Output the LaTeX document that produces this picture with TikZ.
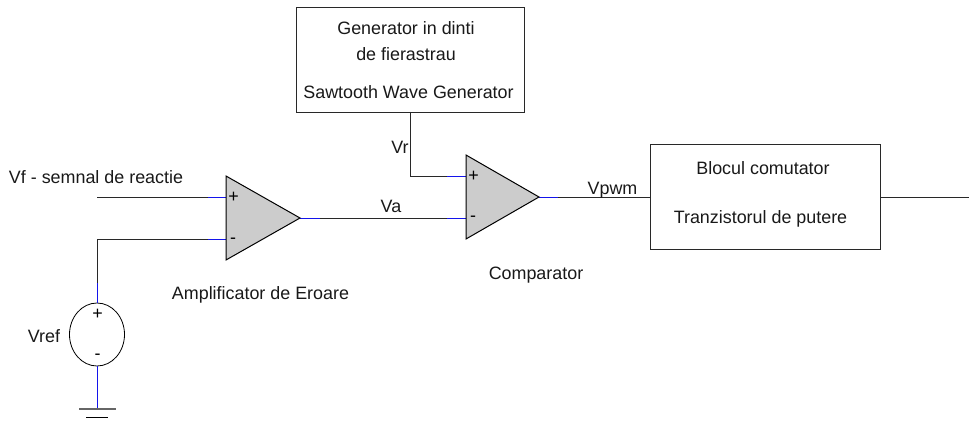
\documentclass[tikz,border=0pt]{standalone}
\usepackage{fontspec}
\setmainfont{Liberation Sans}
\usetikzlibrary{shapes.geometric}
\definecolor{pin}{RGB}{20,20,235}
\definecolor{wirec}{RGB}{40,40,40}
\tikzset{
 x=1pt,y=-1pt,
 wire/.style={draw=wirec,line width=0.85pt},
 pinw/.style={draw=pin,line width=0.85pt},
 tri/.style={draw=black,fill=black!20,line width=1pt,line join=miter},
 boxn/.style={draw=wirec,line width=0.9pt,fill=white,inner sep=0pt,outer sep=0pt,anchor=north west},
 lab/.style={inner sep=0pt,font=\fontsize{17.9}{20}\selectfont,text=black!90},
 sign/.style={inner sep=0pt,font=\fontsize{17.9}{20}\selectfont,text=black}
}
\begin{document}
\begin{tikzpicture}
\useasboundingbox (0,0) rectangle (969,425);
% coordinates
\coordinate (fb) at (97,197);
\coordinate (am) at (226,239);
\coordinate (ap) at (226,197);
\coordinate (ao) at (300,218);
\coordinate (cp) at (466,176);
\coordinate (cm) at (466,218);
\coordinate (co) at (539,197);
\coordinate (corner) at (97,239);
\coordinate (vrc) at (410,176);
\coordinate (outend) at (969,197);
\coordinate (gnd) at (97,409);
\coordinate (gl1) at (79,409);
\coordinate (gr1) at (116,409);
\coordinate (gl2) at (86,417);
\coordinate (gr2) at (108,417);
% generator and switch boxes
\node[boxn,minimum width=228pt,minimum height=105pt] (gen) at (296,7) {};
\node[boxn,minimum width=230pt,minimum height=105pt] (sw) at (650,144) {};
% source
\node[draw=black,line width=0.8pt,ellipse,minimum width=55pt,minimum height=63pt,inner sep=0pt,outer sep=0pt] (src) at (97,334.5) {};
% wires
\draw[wire] (fb) -- (208,197);
\draw[pinw] (208,197) -- (ap);
\draw[wire] (208,239) -- (corner) -- (97,283);
\draw[pinw] (208,239) -- (am);
\draw[pinw] (97,283) -- (src.north);
\draw[pinw] (src.south) -- (gnd);
\draw[pinw] (ao) -- (320,218);
\draw[wire] (320,218) -- (447,218);
\draw[pinw] (447,218) -- (cm);
\draw[wire] (gen.south -| vrc) -- (vrc) -- (447,176);
\draw[pinw] (447,176) -- (cp);
\draw[pinw] (co) -- (558,197);
\draw[wire] (558,197) -- (sw.west |- co);
\draw[wire] (sw.east |- co) -- (outend);
\draw[draw=black!60,line width=1.1pt] (gl1) -- (gr1);
\draw[draw=black,line width=0.9pt] (gl2) -- (gr2);
% amplifiers
\path[tri] (226,176) -- (ao) -- (226,260) -- cycle;
\path[tri] (466,155) -- (co) -- (466,239) -- cycle;
\node[sign] (s1) at (233.5,197) {+};
\node[sign] (s2) at (233,241) {-};
\node[sign] (s3) at (473.5,176) {+};
\node[sign] (s4) at (473,219) {-};
\node[sign] (s5) at (97.5,314) {+};
\node[sign] (s6) at (97.5,357) {-};
% labels
\node[lab] (t1) at (406,28) {Generator in dinti};
\node[lab] (t2) at (406,54) {de fierastrau};
\node[lab] (t3) at (408.5,92) {Sawtooth Wave Generator};
\node[lab] (t4) at (763,168) {Blocul comutator};
\node[lab] (t5) at (760.5,219) {Tranzistorul de putere};
\node[lab] (t6) at (96,177) {Vf - semnal de reactie};
\node[lab] (t7) at (260.5,295) {Amplificator de Eroare};
\node[lab] (t8) at (536,275) {Comparator};
\node[lab] (t9) at (400,147) {Vr};
\node[lab] (t10) at (391,206) {Va};
\node[lab] (t11) at (612.5,190) {Vpwm};
\node[lab] (t12) at (44,336) {Vref};
\end{tikzpicture}
\end{document}
